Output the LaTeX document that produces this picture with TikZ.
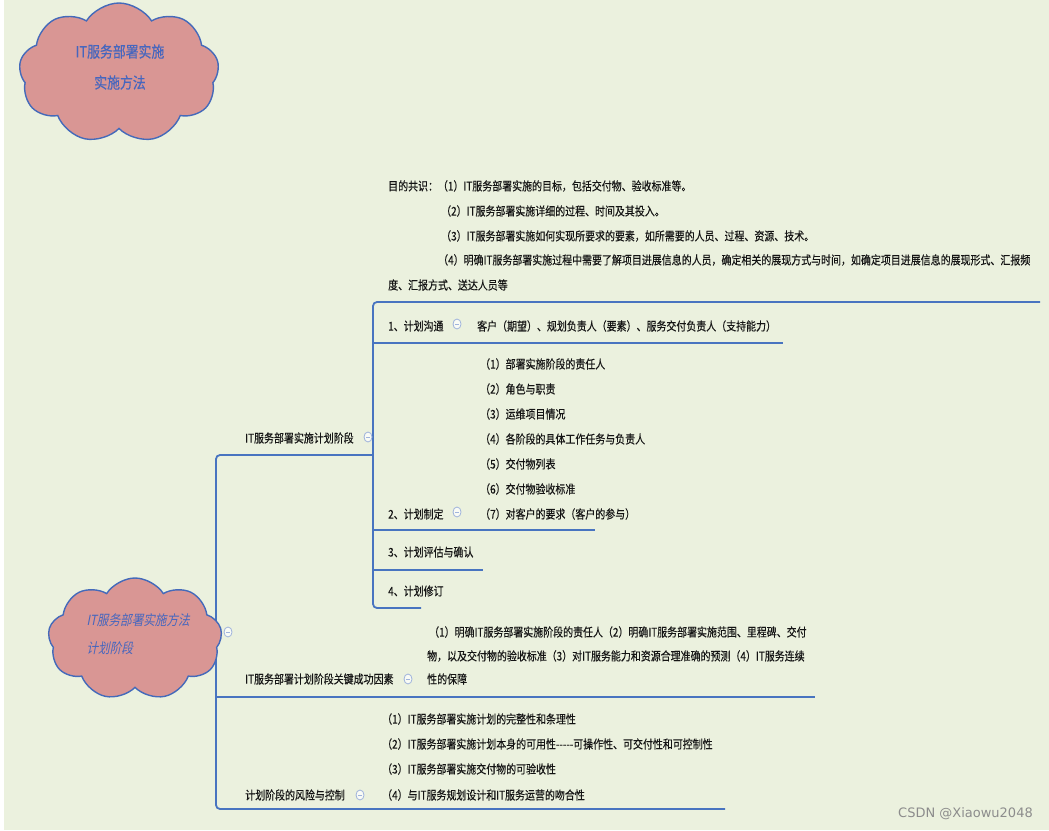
\documentclass[tikz,border=0pt]{standalone}
\usepackage{fontspec}
\newfontfamily\cjk[FakeStretch=0.83,FakeBold=0.35]{Noto Sans CJK SC}
\newfontfamily\cjkslant[FakeStretch=0.83,FakeSlant=0.2]{Noto Sans CJK SC}
\newfontfamily\markfont{DejaVu Sans}
\usetikzlibrary{shapes.symbols,shapes.geometric}
\definecolor{bgcol}{RGB}{235,241,222}
\definecolor{cloudfill}{RGB}{217,150,148}
\definecolor{cloudline}{RGB}{68,106,186}
\definecolor{cloudtext}{RGB}{70,102,190}
\definecolor{lineblue}{RGB}{72,116,192}
\definecolor{foldline}{RGB}{160,180,220}
\definecolor{txtcol}{RGB}{20,20,20}

\begin{document}
\begin{tikzpicture}[x=1pt,y=-1pt,
  mapcloud/.style={cloud, cloud puffs=9, cloud puff arc=115, cloud ignores aspect, draw=cloudline, line width=1.4pt, fill=cloudfill, inner sep=0pt},
  item/.style={anchor=west, inner sep=0pt, text=txtcol, font=\cjk\fontsize{12}{14}\selectfont},
  fold/.style={ellipse, draw=foldline, fill=white!70!bgcol, line width=0.8pt, minimum width=8pt, minimum height=10pt, inner sep=0pt, text=foldline},
  branch/.style={draw=lineblue, line width=1.8pt, rounded corners=4pt}]
\fill[bgcol] (0,0) rectangle (1049,830);
\fill[white] (0,0) rectangle (4,830);
\useasboundingbox (0,0) rectangle (1049,830);

\node[mapcloud, minimum width=200pt, minimum height=140pt] (title) at (119,73) {};
\node[align=center, text=cloudtext, font=\cjk\fontsize{15.5}{31}\selectfont] (titletext) at (120,67) {IT服务部署实施\\实施方法};

\coordinate (p1) at (373,455);
\coordinate (p2) at (216,455);
\coordinate (p3) at (216,809);
\coordinate (p4) at (725,809);
\coordinate (k1) at (216,697);
\coordinate (k2) at (815,697);
\coordinate (q1) at (1040,302);
\coordinate (q2) at (373,302);
\coordinate (q3) at (373,608);
\coordinate (q4) at (421,608);
\coordinate (c1) at (373,343);
\coordinate (c2) at (783,343);
\coordinate (d1) at (373,530);
\coordinate (d2) at (595,530);
\coordinate (e1) at (373,570);
\coordinate (e2) at (483,570);
\draw[branch] (p1) -- (p2) -- (p3) -- (p4);
\draw[branch] (k1) -- (k2);
\draw[branch] (q1) -- (q2) -- (q3) -- (q4);
\draw[branch] (c1) -- (c2);
\draw[branch] (d1) -- (d2);
\draw[branch] (e1) -- (e2);

\node[mapcloud, minimum width=174pt, minimum height=122pt] (root) at (135,639) {};
\node[anchor=west, align=left, text=cloudtext, font=\cjkslant\fontsize{14}{28}\selectfont] (roottext) at (83,634) {IT服务部署实施方法\\计划阶段};
\node[fold] (rootfold) at (228,632) {\rule{3.5pt}{0.8pt}};

\node[item] (aim1) at (388,186) {目的共识：（1）IT服务部署实施的目标，包括交付物、验收标准等。};
\node[item] (aim2) at (441,211) {（2）IT服务部署实施详细的过程、时间及其投入。};
\node[item] (aim3) at (441,236) {（3）IT服务部署实施如何实现所要求的要素，如所需要的人员、过程、资源、技术。};
\node[item] (aim4) at (438,260) {（4）明确IT服务部署实施过程中需要了解项目进展信息的人员，确定相关的展现方式与时间，如确定项目进展信息的展现形式、汇报频};
\node[item] (aim5) at (388,285) {度、汇报方式、送达人员等};

\node[item] (comm) at (388,326) {1、计划沟通};
\node[fold] (commfold) at (457,324) {\rule{3.5pt}{0.8pt}};
\node[item] (commtext) at (477,326) {客户（期望）、规划负责人（要素）、服务交付负责人（支持能力）};

\node[item] (make1) at (480,364) {（1）部署实施阶段的责任人};
\node[item] (make2) at (480,389) {（2）角色与职责};
\node[item] (make3) at (480,414) {（3）运维项目情况};
\node[item] (make4) at (480,439) {（4）各阶段的具体工作任务与负责人};
\node[item] (make5) at (480,464) {（5）交付物列表};
\node[item] (make6) at (480,489) {（6）交付物验收标准};
\node[item] (make7) at (480,514) {（7）对客户的要求（客户的参与）};
\node[item] (make) at (388,514) {2、计划制定};
\node[fold] (makefold) at (457,512) {\rule{3.5pt}{0.8pt}};

\node[item] (check) at (388,552) {3、计划评估与确认};
\node[item] (revise) at (388,591) {4、计划修订};

\node[item] (plan) at (245,438) {IT服务部署实施计划阶段};
\node[fold] (planfold) at (368,437) {\rule{3.5pt}{0.8pt}};

\node[item] (key1) at (429,632) {（1）明确IT服务部署实施阶段的责任人（2）明确IT服务部署实施范围、里程碑、交付};
\node[item] (key2) at (427,656) {物，以及交付物的验收标准（3）对IT服务能力和资源合理准确的预测（4）IT服务连续};
\node[item] (key3) at (427,679) {性的保障};
\node[item] (key) at (245,679) {IT服务部署计划阶段关键成功因素};
\node[fold] (keyfold) at (408,679) {\rule{3.5pt}{0.8pt}};

\node[item] (risk1) at (382,719) {（1）IT服务部署实施计划的完整性和条理性};
\node[item] (risk2) at (382,744) {（2）IT服务部署实施计划本身的可用性-----可操作性、可交付性和可控制性};
\node[item] (risk3) at (382,769) {（3）IT服务部署实施交付物的可验收性};
\node[item] (risk4) at (382,795) {（4）与IT服务规划设计和IT服务运营的吻合性};
\node[item] (risk) at (245,795) {计划阶段的风险与控制};
\node[fold] (riskfold) at (360,795) {\rule{3.5pt}{0.8pt}};

\node[anchor=east, inner sep=0pt, text=black!45, font=\markfont\fontsize{13}{13}\selectfont] (mark) at (1033,814) {CSDN @Xiaowu2048};
\end{tikzpicture}
\end{document}
